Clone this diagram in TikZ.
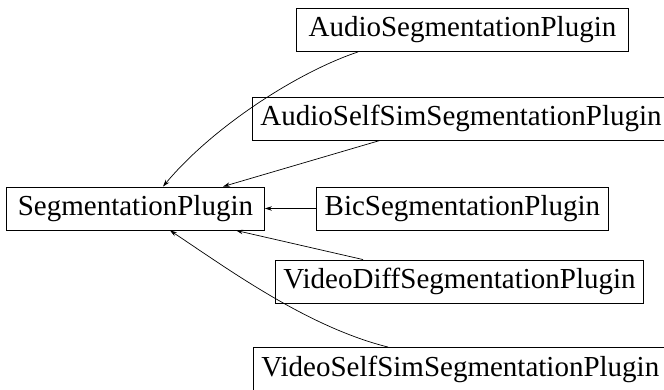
\documentclass[tikz,border=0pt]{standalone}
\usepackage{fontspec}
\setmainfont{Liberation Serif}
\usetikzlibrary{arrows.meta,positioning}

\begin{document}
\begin{tikzpicture}[x=1pt,y=-1pt, every node/.style={font=\fontsize{29}{33}\selectfont,align=center},
  plug/.style={draw,line width=0.9pt,anchor=west,minimum height=43pt,inner xsep=8pt,inner ysep=0pt},
  inh/.style={-{Stealth[length=7pt,width=4.5pt]},line width=0.7pt}]
\useasboundingbox (0,0) rectangle (664,390);
\node[plug,minimum width=258pt] (seg) at (6,208.5) {SegmentationPlugin};
\node[plug,minimum width=332pt] (aud) at (296,30) {AudioSegmentationPlugin};
\node[plug] (audss) at (252,118.5) {AudioSelfSimSegmentationPlugin};
\node[plug,minimum width=292pt] (bic) at (316,208.5) {BicSegmentationPlugin};
\node[plug,minimum width=365pt] (viddiff) at (275,281.5) {VideoDiffSegmentationPlugin};
\node[plug] (vidss) at (253,369) {VideoSelfSimSegmentationPlugin};
\draw[inh] ([xshift=62pt]aud.south west) .. controls +(-60,20) and +(50,-60) .. ([xshift=157pt]seg.north west);
\draw[inh] ([xshift=128pt]audss.south west) -- ([xshift=217pt]seg.north west);
\draw[inh] (bic) -- (seg);
\draw[inh] ([xshift=88pt]viddiff.north west) -- ([xshift=230pt]seg.south west);
\draw[inh] ([xshift=135pt]vidss.north west) .. controls +(-80,-20) and +(60,40) .. ([xshift=164pt]seg.south west);
\end{tikzpicture}
\end{document}
